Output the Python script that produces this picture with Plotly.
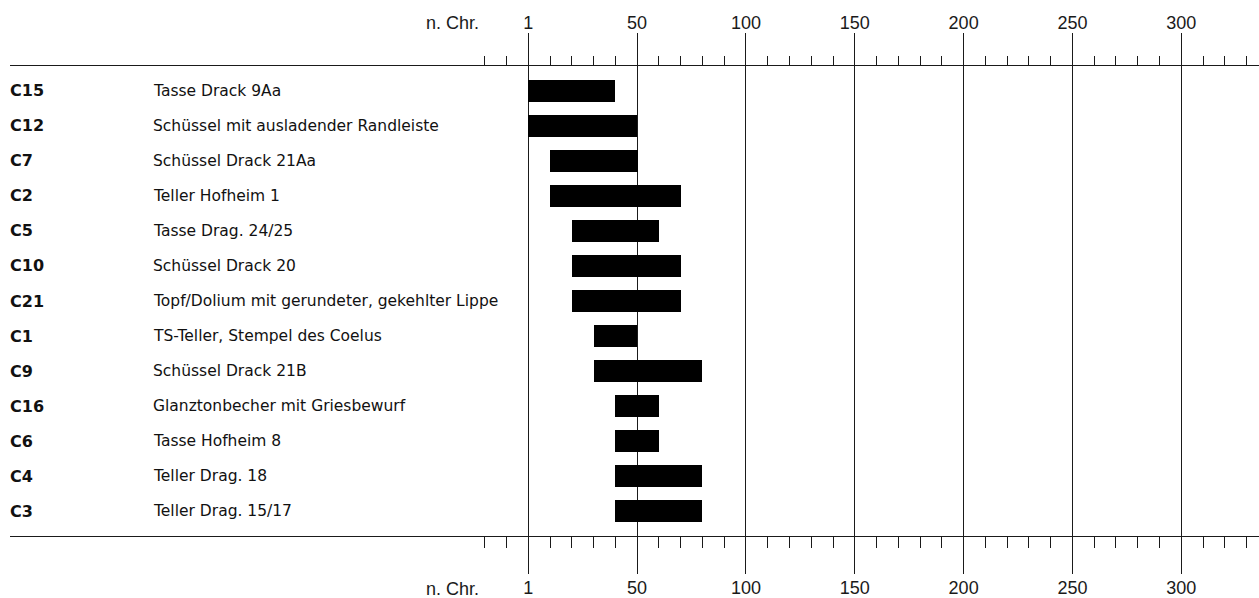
"""
Dating chart of the ceramic types (C-numbers), year ranges n. Chr.
"""

import plotly.graph_objects as go


# ============================================================
# 1. Data
# ============================================================

codes = ["C15", "C12", "C7", "C2", "C5", "C10", "C21",
         "C1", "C9", "C16", "C6", "C4", "C3"]

names = [
    "Tasse Drack 9Aa",
    "Schüssel mit ausladender Randleiste",
    "Schüssel Drack 21Aa",
    "Teller Hofheim 1",
    "Tasse Drag. 24/25",
    "Schüssel Drack 20",
    "Topf/Dolium mit gerundeter, gekehlter Lippe",
    "TS-Teller, Stempel des Coelus",
    "Schüssel Drack 21B",
    "Glanztonbecher mit Griesbewurf",
    "Tasse Hofheim 8",
    "Teller Drag. 18",
    "Teller Drag. 15/17",
]

# start / end (the "1" tick sits at 0)
starts = [0, 0, 10, 10, 20, 20, 20, 30, 30, 40, 40, 40, 40]
ends = [40, 50, 50.5, 70, 60, 70, 70, 50, 80, 60, 60, 80, 80]

major_ticks = [0, 50, 100, 150, 200, 250, 300]
major_labels = ["1", "50", "100", "150", "200", "250", "300"]
minor_ticks = list(range(-20, 331, 10))

era_label = "n. Chr."
era_pos = -35

rows = list(range(len(codes)))


# ============================================================
# 2. Figure
# ============================================================

LINE = "#1a1a1a"
TICK_FONT = dict(family="Liberation Sans, Arial, sans-serif", size=18, color="#1a1a1a")
ROW_FONT = dict(family="DejaVu Sans, sans-serif", size=15.5, color="#111111")
CODE_FONT = dict(family="DejaVu Sans, sans-serif", size=16, color="#111111")

fig = go.Figure()

fig.add_trace(
    go.Bar(
        y=rows,
        x=[e - s for s, e in zip(starts, ends)],
        base=starts,
        orientation="h",
        width=0.625,
        marker=dict(color="black", line=dict(width=0)),
        hoverinfo="skip",
        showlegend=False,
    )
)

# invisible helper so the top axis is drawn
fig.add_trace(
    go.Scatter(
        x=starts,
        y=rows,
        xaxis="x2",
        mode="markers",
        marker=dict(opacity=0),
        hoverinfo="skip",
        showlegend=False,
    )
)

x_range = [-238.1, 335.7]

axis_common = dict(
    range=x_range,
    tickmode="array",
    tickvals=major_ticks,
    ticktext=major_labels,
    ticks="outside",
    tickcolor=LINE,
    tickwidth=1,
    tickfont=TICK_FONT,
    showline=True,
    linecolor=LINE,
    linewidth=1,
    zeroline=False,
    fixedrange=True,
)

fig.update_layout(
    width=1259,
    height=598,
    margin=dict(l=10, r=0, t=66, b=60),
    paper_bgcolor="white",
    plot_bgcolor="white",
    bargap=0,
    xaxis=dict(
        **axis_common,
        side="bottom",
        ticklen=37,
        ticklabelstandoff=-2,
        showgrid=True,
        gridcolor=LINE,
        gridwidth=1,
        minor=dict(
            tickmode="array",
            tickvals=minor_ticks,
            ticks="outside",
            ticklen=11,
            tickcolor=LINE,
            tickwidth=1,
            showgrid=False,
        ),
    ),
    xaxis2=dict(
        **axis_common,
        side="top",
        overlaying="x",
        matches="x",
        anchor="y",
        ticklen=32,
        ticklabelstandoff=-3,
        showgrid=False,
        minor=dict(
            tickmode="array",
            tickvals=minor_ticks,
            ticks="outside",
            ticklen=9,
            tickcolor=LINE,
            tickwidth=1,
            showgrid=False,
        ),
    ),
    yaxis=dict(
        range=[len(codes) - 1 + 0.71, -0.71],
        visible=False,
        showgrid=False,
        zeroline=False,
        fixedrange=True,
    ),
)

# row labels: code + description (paper x from pixel offsets in the plot area)
code_x = -2 / 1249
desc_x = (150.5 - 10) / 1249
for i, (code, name) in enumerate(zip(codes, names)):
    fig.add_annotation(
        x=code_x, y=i, xref="paper", yref="y",
        text=f"<b>{code}</b>", showarrow=False,
        xanchor="left", yanchor="middle",
        font=CODE_FONT,
    )
    fig.add_annotation(
        x=desc_x, y=i, xref="paper", yref="y",
        text=name, showarrow=False,
        xanchor="left", yanchor="middle",
        font=ROW_FONT,
    )

# "n. Chr." beside the tick labels, top and bottom
fig.add_annotation(
    x=era_pos, y=1, xref="x", yref="paper",
    text=era_label, showarrow=False,
    xanchor="center", yanchor="bottom", yshift=31,
    font=TICK_FONT,
)
fig.add_annotation(
    x=era_pos, y=0, xref="x", yref="paper",
    text=era_label, showarrow=False,
    xanchor="center", yanchor="top", yshift=-41,
    font=TICK_FONT,
)

# page body has a default 8px margin; drop it so the figure sits at 0,0
fig.write_html(
    "out.html",
    config={"displayModeBar": False},
    post_script="document.body.style.margin='0';",
)
